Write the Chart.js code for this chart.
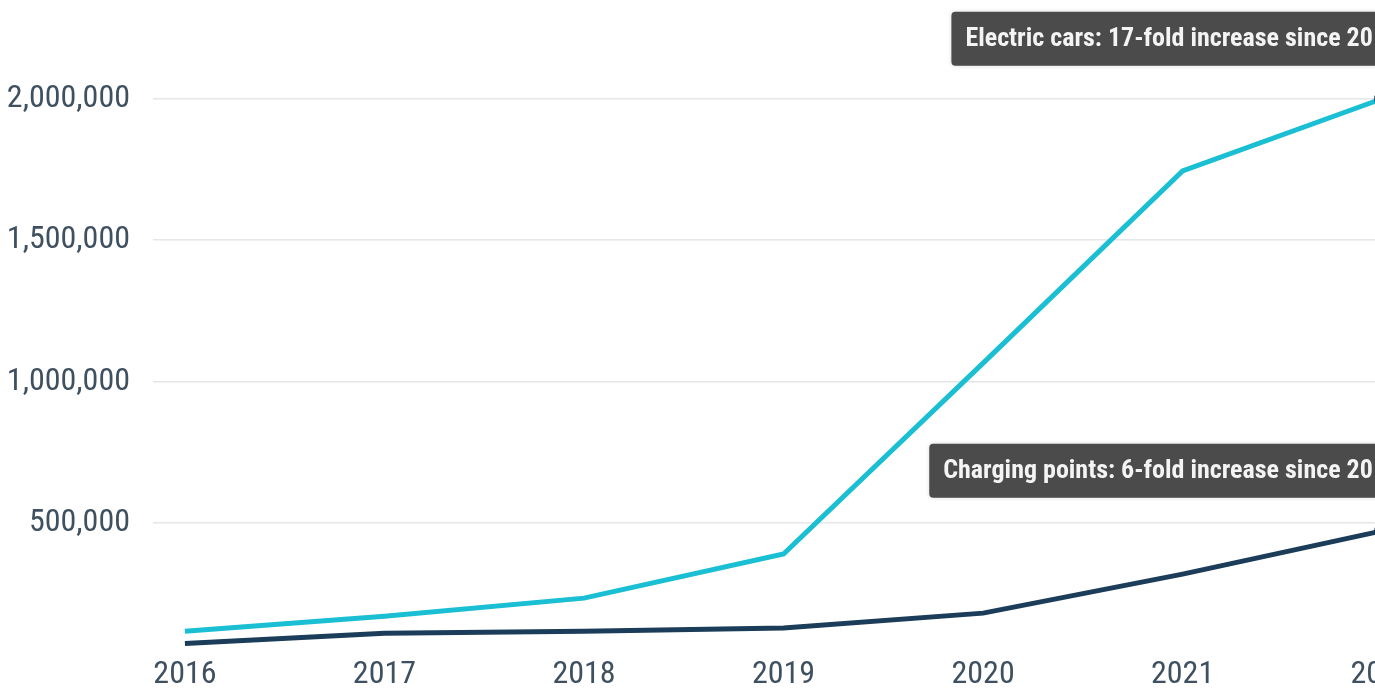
<!DOCTYPE html>
<html>
<head>
<meta charset="utf-8">
<title>Electric cars and charging points</title>
<script src="https://cdn.jsdelivr.net/npm/chart.js@4.4.1/dist/chart.umd.min.js"></script>
<style>
    html, body { margin: 0; padding: 0; background: #fff; overflow: hidden; }
    #wrap { position: relative; width: 1460px; height: 700px; }
</style>
</head>
<body>
<div id="wrap"><canvas id="evChart"></canvas></div>
<script>
// Data
const years = [2016, 2017, 2018, 2019, 2020, 2021, 2022];
const electricCars = [117000, 170000, 234000, 390000, 1065000, 1745000, 2000000];
const chargingPoints = [74000, 110000, 117000, 128000, 181000, 319000, 472000];
const yTicks = [500000, 1000000, 1500000, 2000000];
const notes = [
    'Electric cars: 17-fold increase since 2016',
    'Charging points: 6-fold increase since 2016'
];

const FONT = '"Roboto Condensed", "Liberation Sans Narrow", "DejaVu Sans Condensed", Roboto, sans-serif';
const CYAN = '#1abfd3';
const NAVY = '#1b3d5a';
const DOT = '#0f2f48';

// Dark note boxes above the last point of each line
const notePlugin = {
    id: 'notes',
    afterDatasetsDraw(chart) {
        const ctx = chart.ctx;
        ctx.save();
        ctx.font = 'bold 26px ' + FONT;
        ctx.textBaseline = 'middle';
        chart.data.datasets.forEach((ds, i) => {
            const pt = chart.getDatasetMeta(i).data[years.length - 1];
            const w = ctx.measureText(notes[i]).width + 28;
            const right = pt.x + 31;
            const top = pt.y - 87;
            ctx.fillStyle = '#4b4b4b';
            ctx.shadowColor = 'rgba(0,0,0,0.15)';
            ctx.shadowBlur = 4;
            ctx.beginPath();
            ctx.roundRect(right - w, top, w, 54, 4);
            ctx.fill();
            ctx.shadowBlur = 0;
            ctx.fillStyle = '#f4f4f4';
            ctx.fillText(notes[i], right - w + 14, top + 28);
        });
        ctx.restore();
    }
};

function toPoints(values) {
    return years.map((y, i) => ({ x: y, y: values[i] }));
}

const lastDot = years.map((y, i) => i === years.length - 1 ? 8 : 0);

new Chart(document.getElementById('evChart'), {
    type: 'line',
    data: {
        datasets: [
            {
                label: 'Electric cars',
                data: toPoints(electricCars),
                borderColor: CYAN,
                borderWidth: 5,
                pointRadius: lastDot,
                pointBackgroundColor: DOT,
                pointBorderWidth: 0,
                tension: 0
            },
            {
                label: 'Charging points',
                data: toPoints(chargingPoints),
                borderColor: NAVY,
                borderWidth: 5,
                pointRadius: lastDot,
                pointBackgroundColor: DOT,
                pointBorderWidth: 0,
                tension: 0
            }
        ]
    },
    options: {
        responsive: true,
        maintainAspectRatio: false,
        animation: false,
        layout: { padding: 0 },
        plugins: {
            legend: { display: false },
            tooltip: { enabled: false }
        },
        scales: {
            x: {
                type: 'linear',
                min: 2015.84,
                max: 2022.35,
                afterBuildTicks: (scale) => { scale.ticks = years.map(v => ({ value: v })); },
                afterFit: (scale) => { scale.height = 37; },
                grid: { display: false, drawTicks: false },
                border: { display: false },
                ticks: {
                    padding: -2,
                    color: '#3f5060',
                    font: { family: FONT, size: 32 },
                    callback: (v) => String(v)
                }
            },
            y: {
                min: 23000,
                max: 2200000,
                afterBuildTicks: (scale) => { scale.ticks = yTicks.map(v => ({ value: v })); },
                afterFit: (scale) => { scale.width = 153; },
                grid: { color: '#e4e6e8', lineWidth: 1.5, drawTicks: false },
                border: { display: false },
                ticks: {
                    padding: 23,
                    color: '#3f5060',
                    font: { family: FONT, size: 32 },
                    callback: (v) => v.toLocaleString('en-US')
                }
            }
        }
    },
    plugins: [notePlugin]
});
</script>
</body>
</html>
